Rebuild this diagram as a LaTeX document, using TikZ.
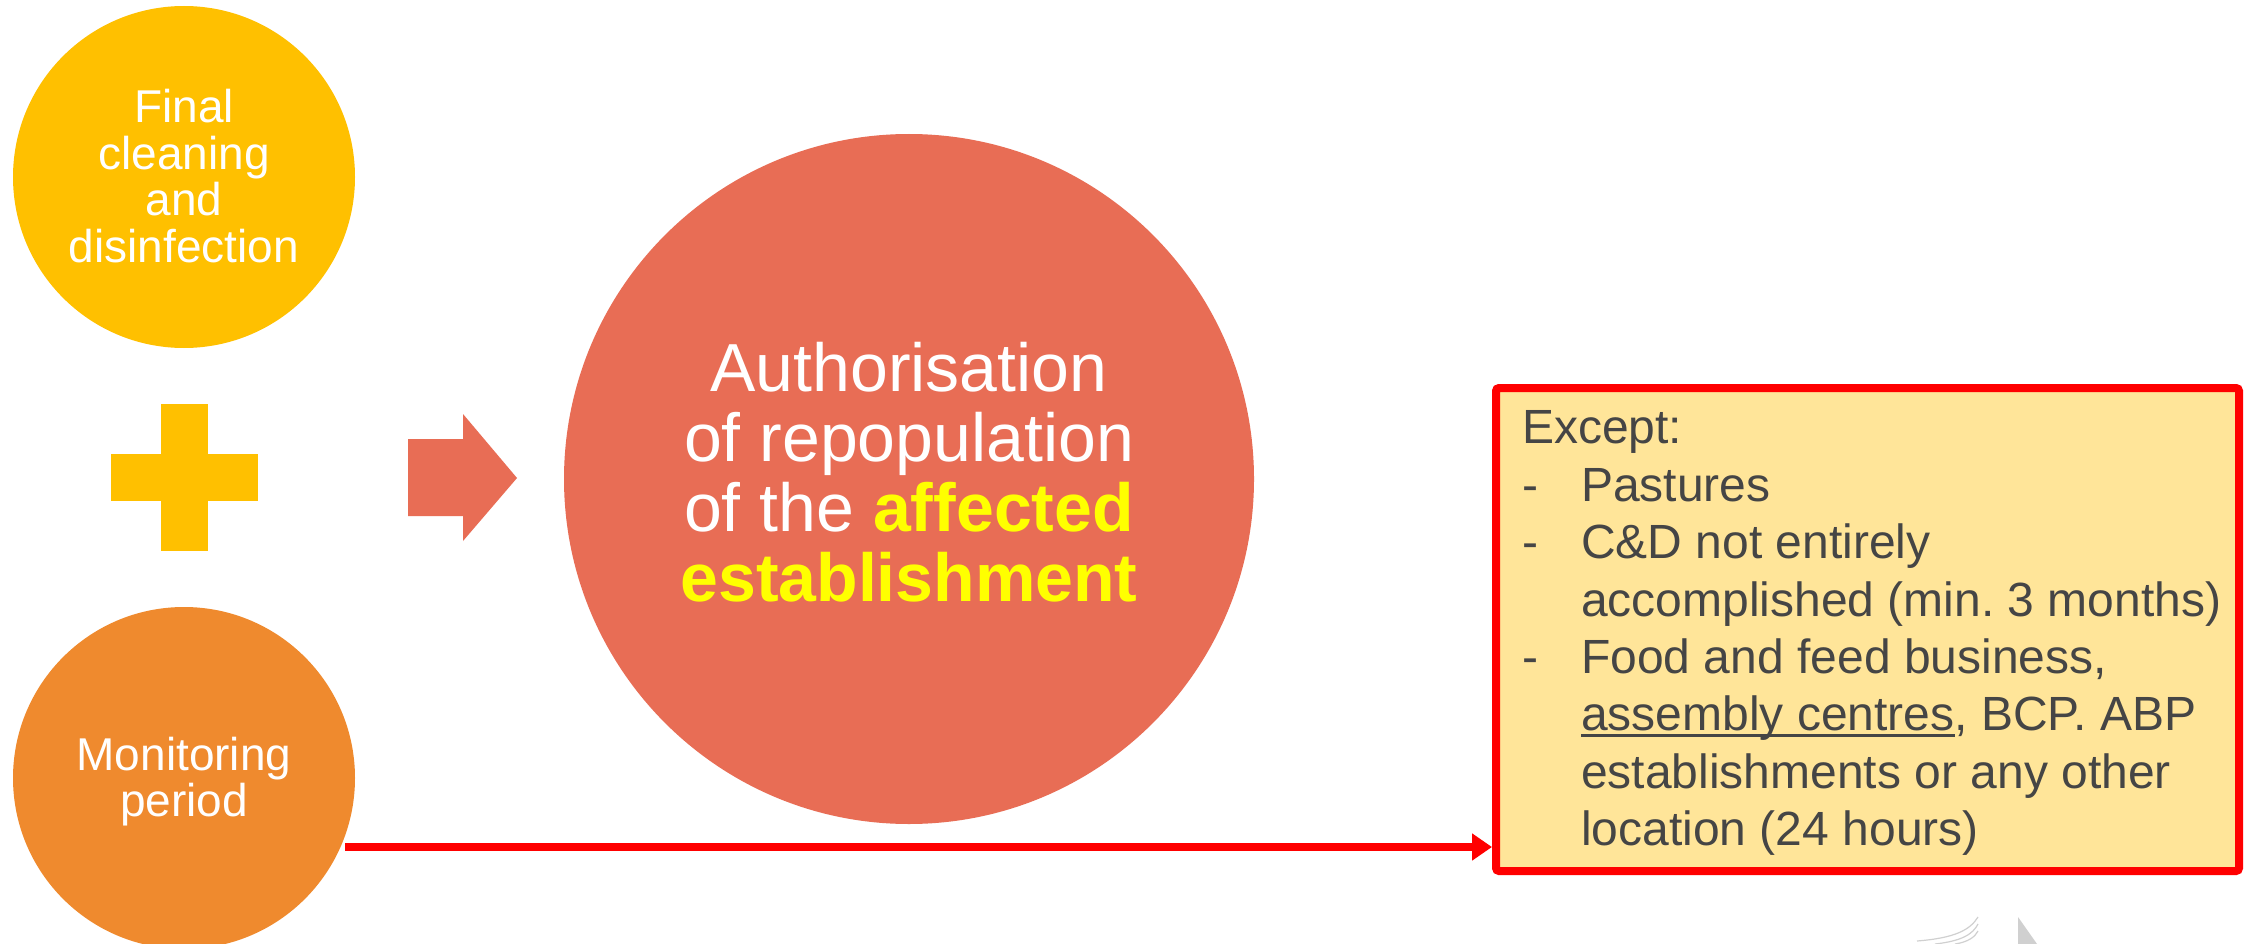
\documentclass[tikz,border=0pt]{standalone}
\usepackage{fontspec}
\setmainfont{Liberation Sans}
\usetikzlibrary{arrows.meta}
\definecolor{cyel}{HTML}{FFC000}
\definecolor{corange}{HTML}{EF8A2E}
\definecolor{cbig}{HTML}{E86D55}
\definecolor{boxfill}{HTML}{FFE599}
\definecolor{cred}{HTML}{FF0000}
\definecolor{ctext}{HTML}{454545}
\definecolor{hilite}{HTML}{FFFF00}
\definecolor{faint}{HTML}{D0D0D0}
\newcommand\myul[1]{\setbox0\hbox{#1}\rlap{\rule[-6pt]{\wd0}{2.6pt}}\box0}
\frenchspacing
\tikzset{
  blob/.style={circle, inner sep=0pt, outer sep=0pt},
  circtext/.style={align=center, text=white, inner sep=0pt, font=\fontsize{46}{46.7}\selectfont},
  bigtext/.style={align=center, text=white, inner sep=0pt, font=\fontsize{68}{70}\selectfont},
  boxtext/.style={align=left, text=ctext, inner sep=0pt, anchor=north west, font=\fontsize{48}{57.4}\selectfont},
  conn/.style={draw=cred, line width=8pt, -{Triangle[length=20pt,width=26pt]}},
}
\begin{document}
\begin{tikzpicture}[x=1pt,y=-1pt]
\useasboundingbox (0,0) rectangle (2253,944);
\clip (0,0) rectangle (2253,944);
\fill[white] (0,0) rectangle (2253,944);

% yellow circle
\node[blob, fill=cyel, minimum size=342pt] (clean) at (184,177) {};
\node[circtext] (cleantxt) at (184,176) {Final\\cleaning\\and\\disinfection};

% plus
\fill[cyel] (161,404) rectangle (208,551);
\fill[cyel] (111,454) rectangle (258,501);

% orange circle
\node[blob, fill=corange, minimum size=342pt] (mon) at (184,778) {};
\node[circtext] (montxt) at (184,781.5) {Monitoring\\period};

% fat arrow
\fill[cbig] (408,439) -- (463,439) -- (463,414) -- (517,478) -- (463,541) -- (463,516) -- (408,516) -- cycle;

% big circle
\node[blob, fill=cbig, minimum size=690pt] (auth) at (909,479) {};
\node[bigtext] (authtxt) at (909,472.5) {Authorisation\\of repopulation\\of the \textbf{\color{hilite}affected}\\\textbf{\color{hilite}establishment}};

% box
\node[draw=cred, line width=8pt, fill=boxfill, rounded corners=3pt, minimum width=743pt, minimum height=483pt, inner sep=0pt, outer sep=4pt] (box) at (1867.5,629.5) {};
\node[boxtext] (boxtxt) at (1522,410.6) {Except:\\\makebox[59pt][l]{-}Pastures\\\makebox[59pt][l]{-}C\&D not entirely\\\hspace*{59pt}accomplished (min. 3 months)\\\makebox[59pt][l]{-}Food and feed business,\\\hspace*{59pt}\myul{assembly centres}, BCP. ABP\\\hspace*{59pt}establishments or any other\\\hspace*{59pt}location (24 hours)};

% connector
\coordinate (lstart) at (345,847);
\draw[conn] (lstart) -- (lstart -| box.west);

% faint watermark fragment
\draw[faint, line width=1.2pt] (1917,941) .. controls (1955,938) and (1970,930) .. (1978,917);
\draw[faint, line width=1.2pt] (1935,944) .. controls (1962,941) and (1973,934) .. (1978,924);
\draw[faint, line width=1.2pt] (1955,944) .. controls (1968,942) and (1975,937) .. (1978,931);
\fill[faint] (2018,917) -- (2037,944) -- (2018,944) -- cycle;
\end{tikzpicture}
\end{document}
